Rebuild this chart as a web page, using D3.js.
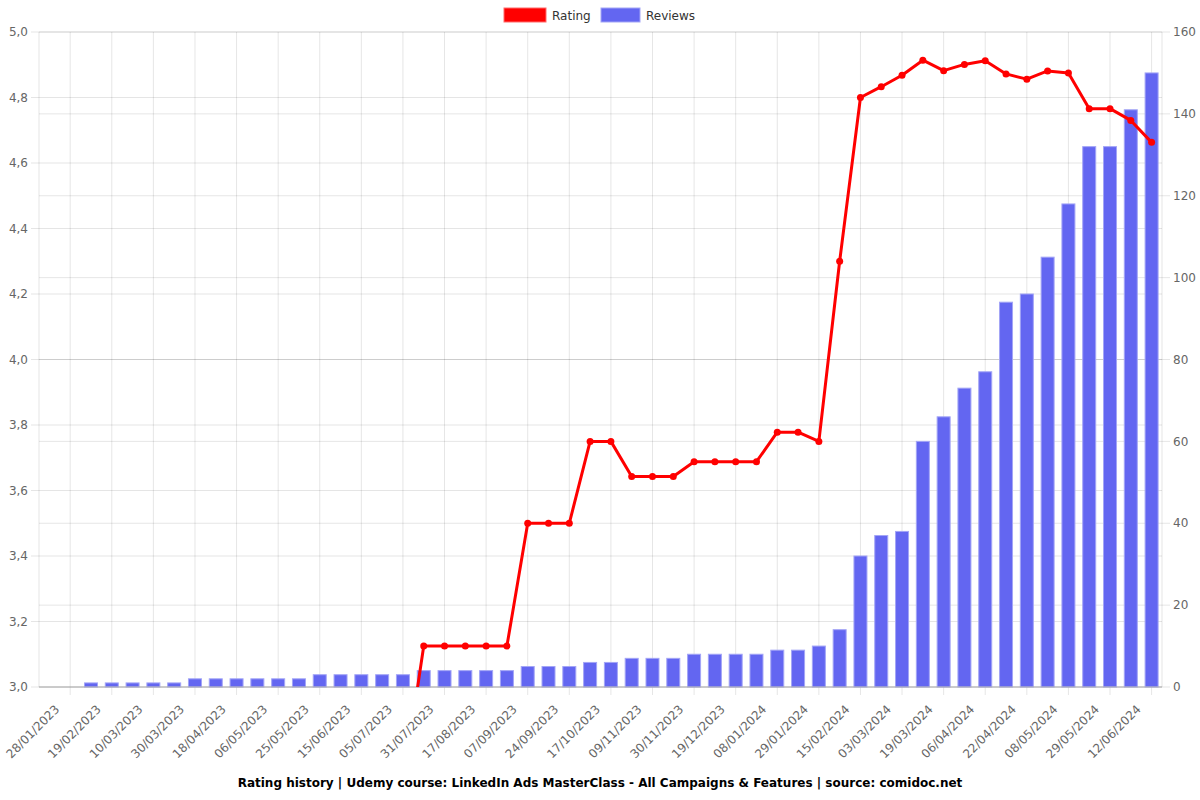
<!DOCTYPE html>
<html>
<head>
<meta charset="utf-8">
<script src="https://cdn.jsdelivr.net/npm/d3@7"></script>
<style>
  body { margin: 0; background: #fff; }
  svg { font-family: "DejaVu Sans", sans-serif; }
</style>
</head>
<body>
<svg id="chart" width="1200" height="800"></svg>
<script>
// tick labels, one on every second category (odd indices)
var dates = ["28/01/2023", "19/02/2023", "10/03/2023", "30/03/2023", "18/04/2023",
  "06/05/2023", "25/05/2023", "15/06/2023", "05/07/2023", "31/07/2023", "17/08/2023",
  "07/09/2023", "24/09/2023", "17/10/2023", "09/11/2023", "30/11/2023", "19/12/2023",
  "08/01/2024", "29/01/2024", "15/02/2024", "03/03/2024", "19/03/2024", "06/04/2024",
  "22/04/2024", "08/05/2024", "29/05/2024", "12/06/2024"];

var reviews = [0, 0, 1, 1, 1, 1, 1, 2, 2, 2, 2, 2, 2, 3, 3, 3, 3, 3,
  4, 4, 4, 4, 4, 5, 5, 5, 6, 6, 7, 7, 7, 8, 8, 8, 8, 9, 9, 10, 14,
  32, 37, 38, 60, 66, 73, 77, 94, 96, 105, 118, 132, 132, 141, 150];

// first values sit below the 3,0 floor and are not visible
var rating = [null, null, null, null, null, null, null, null, null, null, null, null,
  null, null, null, null, null, 2.7,
  3.125, 3.125, 3.125, 3.125, 3.125, 3.5, 3.5, 3.5, 3.75, 3.75, 3.643, 3.643, 3.643,
  3.688, 3.688, 3.688, 3.688, 3.778, 3.778, 3.75, 4.30,
  4.80, 4.833, 4.868, 4.914, 4.882, 4.901, 4.912, 4.872, 4.856, 4.881, 4.875,
  4.766, 4.766, 4.730, 4.663];

var title = "Rating history | Udemy course: LinkedIn Ads MasterClass - All Campaigns & Features | source: comidoc.net";

var svg = d3.select("#chart"),
    margin = {top: 32, right: 38, bottom: 113, left: 39},
    width = +svg.attr("width") - margin.left - margin.right,
    height = +svg.attr("height") - margin.top - margin.bottom;

var idx = d3.range(reviews.length);

var x = d3.scaleBand().domain(idx).range([0, width]).padding(0),
    yL = d3.scaleLinear().domain([3, 5]).range([height, 0]),
    yR = d3.scaleLinear().domain([0, 160]).range([height, 0]);

var cx = function(i) { return x(i) + x.bandwidth() / 2; };
var tickIdx = idx.filter(function(i) { return i % 2 === 1; });

var g = svg.append("g")
    .attr("transform", "translate(" + margin.left + "," + margin.top + ")");

var gridColor = "rgba(0,0,0,0.1)";

// horizontal grid, both axes
g.append("g").selectAll("line")
    .data(yL.ticks(10))
  .enter().append("line")
    .attr("x1", -8).attr("x2", width)
    .attr("y1", function(d) { return yL(d); })
    .attr("y2", function(d) { return yL(d); })
    .attr("stroke", gridColor);

g.append("g").selectAll("line")
    .data(yR.ticks(8))
  .enter().append("line")
    .attr("x1", 0).attr("x2", width + 8)
    .attr("y1", function(d) { return yR(d); })
    .attr("y2", function(d) { return yR(d); })
    .attr("stroke", gridColor);

// vertical grid
g.append("g").selectAll("line")
    .data(tickIdx)
  .enter().append("line")
    .attr("x1", function(d) { return cx(d); })
    .attr("x2", function(d) { return cx(d); })
    .attr("y1", 0).attr("y2", height + 8)
    .attr("stroke", gridColor);

[0, width].forEach(function(px) {
  g.append("line")
      .attr("x1", px).attr("x2", px)
      .attr("y1", 0).attr("y2", height)
      .attr("stroke", gridColor);
});

// axis labels
g.append("g").selectAll("text")
    .data(yL.ticks(10))
  .enter().append("text")
    .attr("x", -11)
    .attr("y", function(d) { return yL(d); })
    .attr("dy", "0.35em")
    .attr("text-anchor", "end")
    .attr("fill", "#666")
    .style("font-size", "12px")
    .text(function(d) { return d3.format(".1f")(d).replace(".", ","); });

g.append("g").selectAll("text")
    .data(yR.ticks(8))
  .enter().append("text")
    .attr("x", width + 11)
    .attr("y", function(d) { return yR(d); })
    .attr("dy", "0.35em")
    .attr("fill", "#666")
    .style("font-size", "12px")
    .text(function(d) { return d; });

g.append("g").selectAll("text")
    .data(tickIdx)
  .enter().append("text")
    .attr("transform", function(d) {
      return "translate(" + (cx(d) - 13) + "," + (height + 20) + ") rotate(-45)";
    })
    .attr("text-anchor", "end")
    .attr("dy", "0.35em")
    .attr("fill", "#666")
    .style("font-size", "12px")
    .text(function(d) { return dates[(d - 1) / 2]; });

// bars
var barW = 14;
g.append("g").selectAll("rect")
    .data(idx.filter(function(i) { return reviews[i] > 0; }))
  .enter().append("rect")
    .attr("x", function(i) { return cx(i) - barW / 2 + 0.5; })
    .attr("y", function(i) { return yR(reviews[i]); })
    .attr("width", barW - 1)
    .attr("height", function(i) { return height - yR(reviews[i]); })
    .attr("fill", "#6366f1")
    .attr("stroke", "#a3a5f6")
    .attr("stroke-width", 1);

// bottom axis line
g.append("line")
    .attr("x1", 0).attr("x2", width)
    .attr("y1", height).attr("y2", height)
    .attr("stroke", "#b0b0b0");

// rating line, clipped to the plot
svg.append("defs").append("clipPath").attr("id", "clip")
  .append("rect").attr("width", width).attr("height", height);

var line = d3.line()
    .defined(function(i) { return rating[i] !== null; })
    .x(function(i) { return cx(i); })
    .y(function(i) { return yL(rating[i]); });

var lg = g.append("g").attr("clip-path", "url(#clip)");
lg.append("path")
    .datum(idx)
    .attr("d", line)
    .attr("fill", "none")
    .attr("stroke", "#ff0000")
    .attr("stroke-width", 3)
    .attr("stroke-linejoin", "round");

lg.selectAll("circle")
    .data(idx.filter(function(i) { return rating[i] !== null && rating[i] >= 3; }))
  .enter().append("circle")
    .attr("cx", function(i) { return cx(i); })
    .attr("cy", function(i) { return yL(rating[i]); })
    .attr("r", 3.5)
    .attr("fill", "#ff0000");

// legend
var legend = svg.append("g").style("font-size", "12px");
legend.append("rect").attr("x", 504).attr("y", 8).attr("width", 42).attr("height", 14)
    .attr("fill", "#ff0000").attr("stroke", "#ff6b6b").attr("stroke-width", 1);
legend.append("text").attr("x", 552).attr("y", 20).attr("fill", "#333").text("Rating");
legend.append("rect").attr("x", 601).attr("y", 8).attr("width", 39).attr("height", 14)
    .attr("fill", "#6366f1").attr("stroke", "#a3a5f6").attr("stroke-width", 1);
legend.append("text").attr("x", 646).attr("y", 20).attr("fill", "#333").text("Reviews");

// title
svg.append("text")
    .attr("x", 600).attr("y", 787)
    .attr("text-anchor", "middle")
    .style("font-size", "12px")
    .style("font-weight", "bold")
    .attr("fill", "#000")
    .text(title);
</script>
</body>
</html>
